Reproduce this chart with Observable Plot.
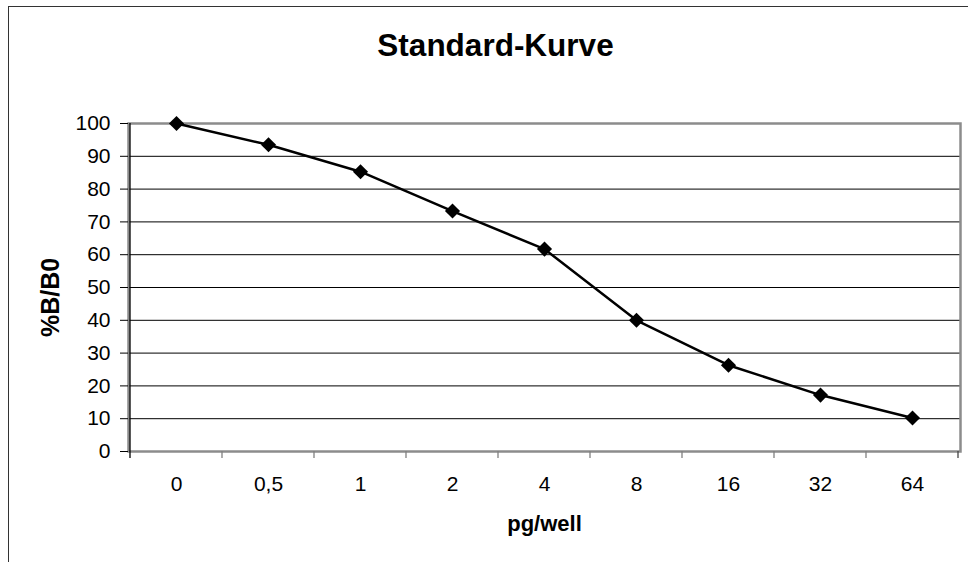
<!DOCTYPE html>
<html><head><meta charset="utf-8">
<script src="https://cdn.jsdelivr.net/npm/d3@7"></script>
<script src="https://cdn.jsdelivr.net/npm/@observablehq/plot@0.6"></script>
<style>
html,body{margin:0;padding:0;background:#fff;}
#wrap{position:relative;width:968px;height:562px;overflow:hidden;}
#wrap svg{position:absolute;left:0;top:0;}
#border{position:absolute;left:8px;top:6px;width:2000px;height:2000px;border-left:1.5px solid #333;border-top:1.5px solid #333;pointer-events:none;}
</style></head><body><div id="wrap"></div>
<script>
const categories = ["0", "0,5", "1", "2", "4", "8", "16", "32", "64"];
const values = [100, 93.5, 85.3, 73.3, 61.7, 40.0, 26.3, 17.2, 10.2];
const yTicks = [0, 10, 20, 30, 40, 50, 60, 70, 80, 90, 100];
const gridTicks = [10, 20, 30, 40, 50, 60, 70, 80, 90];
const titleText = "Standard-Kurve";
const xLabel = "pg/well";
const yLabel = "%B/B0";

const data = categories.map((c, i) => ({cat: c, v: values[i]}));

function xTickMarks(index, scales, vals, dims) {
  const x = scales.x, y = scales.y;
  const bw = x.bandwidth ? x.bandwidth() : (x(categories[1]) - x(categories[0]));
  const y0 = dims.height - dims.marginBottom;
  const g = d3.create("svg:g");
  const edges = categories.map(c => x(c)).concat([x(categories[categories.length - 1]) + bw]);
  edges.forEach((e, i) => {
    if (i === 0) return;
    g.append("line").attr("x1", e).attr("x2", e).attr("y1", y0).attr("y2", y0 + 7)
      .attr("stroke", i === edges.length - 1 ? "#444" : "#808080").attr("stroke-width", 1.3);
  });
  // vertical axis line, extending down like the Excel axis
  g.append("line").attr("x1", edges[0]).attr("x2", edges[0]).attr("y1", y(100)).attr("y2", y0 + 7)
    .attr("stroke", "#000").attr("stroke-width", 1.3);
  return g.node();
}

const font = '"Liberation Sans", Arial, Helvetica, sans-serif';

const chart = Plot.plot({
  width: 968,
  height: 562,
  marginLeft: 128,
  marginRight: 8,
  marginTop: 123,
  marginBottom: 111,
  style: {fontFamily: font, fontSize: "21px", background: "transparent", color: "black"},
  x: {type: "band", domain: categories, padding: 0},
  y: {domain: [0, 100]},
  marks: [
    Plot.gridY({ticks: gridTicks, stroke: "#000", strokeOpacity: 1, strokeWidth: 1}),
    Plot.frame({stroke: "#8c8c8c", strokeWidth: 2.5}),
    xTickMarks,
    Plot.axisY({ticks: yTicks, tickSize: 8, tickPadding: 10, label: null, fontSize: 21, stroke: "#000", fill: "#000"}),
    Plot.axisX({tickSize: 0, tickPadding: 25, label: null, fontSize: 21, fill: "#000"}),
    Plot.line(data, {x: "cat", y: "v", stroke: "#000", strokeWidth: 2.5}),
    Plot.dot(data, {x: "cat", y: "v", symbol: "diamond2", r: 6.8, fill: "#000", stroke: "none"}),
    Plot.text([titleText], {text: d => d, frameAnchor: "top", dx: -49, dy: -78, lineAnchor: "middle", fontSize: 31.5, fontWeight: "bold", fill: "#000"}),
    Plot.text([xLabel], {text: d => d, frameAnchor: "bottom", dy: 72, lineAnchor: "middle", fontSize: 22, fontWeight: "bold", fill: "#000"}),
    Plot.text([yLabel], {text: d => d, frameAnchor: "left", dx: -78, dy: 10, rotate: -90, textAnchor: "middle", lineAnchor: "middle", fontSize: 25, fontWeight: "bold", fill: "#000"})
  ]
});

const wrap = document.getElementById("wrap");
wrap.appendChild(chart);
const border = document.createElement("div");
border.id = "border";
wrap.appendChild(border);
</script>
</body></html>
